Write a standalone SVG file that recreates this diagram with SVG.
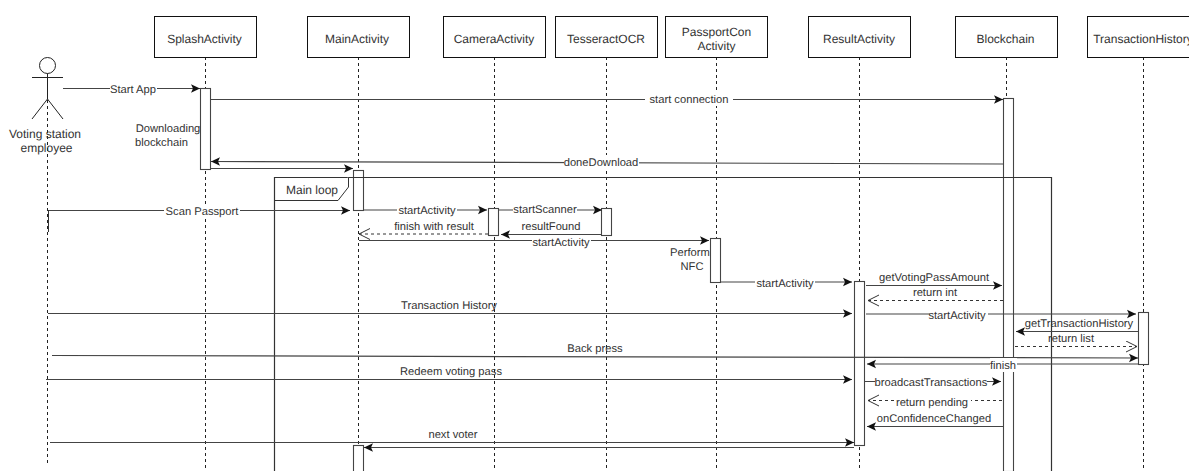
<svg xmlns="http://www.w3.org/2000/svg" width="1189" height="471" viewBox="0 0 1189 471">
<defs>
<marker id="solid" markerUnits="userSpaceOnUse" markerWidth="10" markerHeight="10" refX="9" refY="5" orient="auto"><path d="M0,0.8 L9,5 L0,9.2 L2,5 Z" fill="#111"/></marker>
<marker id="open" markerUnits="userSpaceOnUse" markerWidth="12" markerHeight="14" refX="11" refY="6" orient="auto"><path d="M0,0.5 L11,6 L0,11.500" fill="none" stroke="#333" stroke-width="1"/></marker>
</defs>
<style>
text{font-family:"Liberation Sans",Arial,sans-serif;font-size:11.200px;fill:#333;text-anchor:middle;text-rendering:geometricPrecision}
.h{font-size:12px}
.box{fill:#fff;stroke:#111;stroke-width:1}
.life{stroke:#222;stroke-width:1;stroke-dasharray:3 3;fill:none}
.act{fill:#fff;stroke:#444;stroke-width:1.100}
.m{stroke:#444;stroke-width:1.200;fill:none;marker-end:url(#solid)}
.d{stroke:#333;stroke-width:1;fill:none;stroke-dasharray:3 3;marker-end:url(#open)}
.bg{fill:#fff}
</style>
<rect width="1189" height="471" fill="#fff"/>
<g id="lifelines">
<path class="life" d="M47.500 100V463"/><path class="life" d="M205.500 57V471"/><path class="life" d="M358.500 57V471"/><path class="life" d="M494.500 57V471"/><path class="life" d="M606.500 57V471"/><path class="life" d="M716.500 57V471"/><path class="life" d="M859.500 57V471"/><path class="life" d="M1006.500 57V98"/><path class="life" d="M1143.500 57V471"/>
</g>
<g id="actor-employee">
<circle cx="47.500" cy="65.500" r="8" fill="#fff" stroke="#222"/>
<path d="M47.500 73.500V99M32 77.500H63M32 119L47.500 99L63 119" fill="none" stroke="#222"/>
<text class="h" x="45" y="138">Voting station</text><text class="h" x="46.500" y="152">employee</text>
</g>
<g id="splash"><rect class="box" x="154.500" y="16.500" width="102" height="41"/><text class="h" x="204.500" y="43">SplashActivity</text></g>
<g id="main"><rect class="box" x="307.500" y="16.500" width="102" height="41"/><text class="h" x="357" y="43">MainActivity</text></g>
<g id="camera"><rect class="box" x="443.500" y="16.500" width="102" height="41"/><text class="h" x="494" y="43">CameraActivity</text></g>
<g id="tesseract"><rect class="box" x="555.500" y="16.500" width="102" height="41"/><text class="h" x="606" y="43">TesseractOCR</text></g>
<g id="passport"><rect class="box" x="665.500" y="16.500" width="102" height="41"/><text class="h" x="716.500" y="36">PassportCon</text><text class="h" x="716.500" y="50">Activity</text></g>
<g id="result"><rect class="box" x="808.500" y="16.500" width="102" height="41"/><text class="h" x="859" y="43">ResultActivity</text></g>
<g id="blockchain"><rect class="box" x="955.500" y="16.500" width="102" height="41"/><text class="h" x="1005.500" y="43">Blockchain</text></g>
<g id="history"><rect class="box" x="1087.500" y="16.500" width="110" height="41"/><text class="h" x="1143" y="43">TransactionHistory</text></g>
<g id="activations">
<rect class="act" x="200.500" y="88.500" width="10" height="81"/>
<rect class="act" x="353.500" y="170.500" width="10" height="40"/>
<rect class="act" x="488.500" y="208.500" width="10" height="27"/>
<rect class="act" x="601.500" y="208.500" width="10" height="27"/>
<rect class="act" x="710.500" y="238.500" width="10" height="44"/>
<rect class="act" x="854.500" y="281.500" width="10" height="164"/>
<rect class="act" x="1003.500" y="98.500" width="10" height="373"/>
<rect class="act" x="1138.500" y="312.500" width="10" height="52"/>
<rect class="act" x="353.500" y="445.500" width="10" height="30"/>
</g>
<g id="main-loop">
<path d="M274.500 471V177.500H1051.500V471" fill="none" stroke="#333" stroke-width="1.200"/>
<path d="M274.500 200.500H338L348.500 187V177.500" fill="#fff" stroke="#333"/>
<text class="h" x="312" y="194">Main loop</text>
</g>
<g id="connectors">
<path class="m" d="M63 88.500H200"/>
<path class="m" d="M211 99.500H1003"/>
<path class="m" d="M1003 164L211 161.500"/>
<path class="m" d="M211 168.500H353"/>
<path class="m" d="M48 210.500H350"/>
<path d="M48.500 210V232" fill="none" stroke="#333"/>
<path class="m" d="M364 210H487"/>
<path class="d" d="M488 234H359"/>
<path class="m" d="M499 210H602"/>
<path class="m" d="M601 234.500H501"/>
<path class="m" d="M359 240.500H709"/>
<path class="m" d="M721 282H852"/>
<path class="m" d="M866 285.500H1002"/>
<path class="d" d="M1003 300.500H868"/>
<path class="m" d="M48 313.500H852"/>
<path class="m" d="M866 314H1136"/>
<path class="m" d="M1138 331.500H1016"/>
<path class="d" d="M1015 346.500H1137"/>
<path class="m" d="M52 355.500L1138 358"/>
<path class="m" d="M1138 364H867"/>
<path class="m" d="M46 379.500H852"/>
<path class="m" d="M865 381.500H1001"/>
<path class="d" d="M1002 400.500H868"/>
<path class="m" d="M1003 426.500H867"/>
<path class="m" d="M50 442.500H854"/>
<path class="m" d="M854 447.500H364"/>
</g>
<g id="labels">
<rect class="bg" x="110" y="81" width="47" height="14"/><text x="133" y="93">Start App</text>
<rect class="bg" x="645" y="92" width="88" height="14"/><text x="689" y="103">start connection</text>
<rect class="bg" x="564" y="155" width="75" height="14"/><text x="601" y="166">doneDownload</text>
<text x="168" y="132">Downloading</text><text x="135" y="146" style="text-anchor:start">blockchain</text>
<rect class="bg" x="164" y="204" width="76" height="14"/><text x="202" y="215">Scan Passport</text>
<rect class="bg" x="397" y="204" width="60" height="13"/><text x="427" y="214">startActivity</text>
<text x="434" y="230">finish with result</text>
<rect class="bg" x="513" y="203" width="64" height="13"/><text x="545" y="213">startScanner</text>
<text x="551" y="230">resultFound</text>
<rect class="bg" x="532" y="236" width="59" height="13"/><text x="561" y="246">startActivity</text>
<text x="690" y="256">Perform</text><text x="692" y="270">NFC</text>
<rect class="bg" x="755" y="276" width="60" height="13"/><text x="785" y="287">startActivity</text>
<text x="934" y="281">getVotingPassAmount</text>
<text x="935" y="296">return int</text>
<text x="449" y="309">Transaction History</text>
<rect class="bg" x="930" y="308" width="58" height="14"/><text x="957" y="319">startActivity</text>
<text x="1079" y="327">getTransactionHistory</text>
<text x="1071" y="342">return list</text>
<text x="595" y="352">Back press</text>
<rect class="bg" x="990" y="358" width="27" height="14"/><text x="1003" y="369">finish</text>
<text x="451" y="375">Redeem voting pass</text>
<rect class="bg" x="875" y="375" width="112" height="14"/><text x="931" y="386">broadcastTransactions</text>
<rect class="bg" x="895" y="395" width="76" height="14"/><text x="932" y="406">return pending</text>
<text x="934" y="422">onConfidenceChanged</text>
<text x="453" y="438">next voter</text>
</g>
</svg>
